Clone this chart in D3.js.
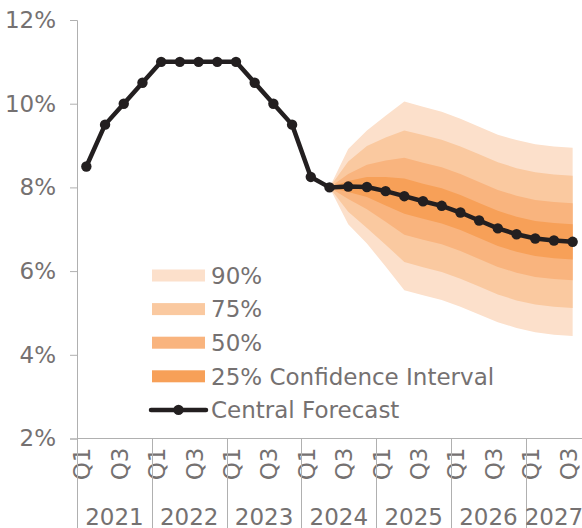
<!DOCTYPE html>
<html>
<head>
<meta charset="utf-8">
<script src="https://cdn.jsdelivr.net/npm/d3@7"></script>
<style>
  body { margin: 0; background: #fff; }
  svg text { font-family: "DejaVu Sans", sans-serif; fill: #757171; }
</style>
</head>
<body>
<div id="chart"></div>
<script>
// Periods: 2021 Q1 .. 2027 Q3
const years = ["2021", "2022", "2023", "2024", "2025", "2026", "2027"];
const quarterNames = ["Q1", "Q2", "Q3", "Q4"];
const periods = years.flatMap((y) => quarterNames.map((q) => `${y} ${q}`)).slice(0, 27);

// Central forecast, %
const centralForecast = [
  8.5, 9.5, 10.0, 10.5, 11.0, 11.0, 11.0, 11.0, 11.0, 10.5, 10.0, 9.5, 8.25,
  8.0, 8.02, 8.01, 7.91, 7.79, 7.67, 7.56, 7.40, 7.21, 7.02, 6.88, 6.78, 6.73, 6.70,
];

// Fan chart bounds, 2024 Q2 .. 2027 Q3
const fanPeriods = periods.slice(13);
const band90Upper = [8.0, 8.92, 9.36, 9.71, 10.05, 9.93, 9.81, 9.64, 9.45, 9.26, 9.13, 9.03, 8.98, 8.95];
const band90Lower = [8.0, 7.12, 6.66, 6.11, 5.54, 5.42, 5.31, 5.15, 4.96, 4.78, 4.64, 4.54, 4.48, 4.45];
const band75Upper = [8.0, 8.62, 8.99, 9.19, 9.36, 9.25, 9.14, 8.98, 8.79, 8.60, 8.46, 8.36, 8.31, 8.28];
const band75Lower = [8.0, 7.42, 7.03, 6.63, 6.22, 6.09, 5.98, 5.82, 5.63, 5.44, 5.30, 5.20, 5.15, 5.12];
const band50Upper = [8.0, 8.32, 8.54, 8.64, 8.71, 8.59, 8.48, 8.32, 8.13, 7.94, 7.80, 7.70, 7.65, 7.62];
const band50Lower = [8.0, 7.72, 7.48, 7.18, 6.87, 6.75, 6.64, 6.48, 6.29, 6.10, 5.96, 5.86, 5.81, 5.78];
const band25Upper = [8.0, 8.15, 8.25, 8.25, 8.21, 8.09, 7.98, 7.82, 7.63, 7.44, 7.30, 7.20, 7.15, 7.12];
const band25Lower = [8.0, 7.89, 7.77, 7.57, 7.37, 7.25, 7.14, 6.98, 6.79, 6.60, 6.46, 6.36, 6.31, 6.28];

const yTicks = [2, 4, 6, 8, 10, 12];
const bandLabels = ["90%", "75%", "50%", "25% Confidence Interval"];
const lineLabel = "Central Forecast";

const width = 582, height = 528;
const margin = { top: 20, right: 0, bottom: 89.5, left: 77 };
const fontSize = 23;
const bandColors = ["#fce0cb", "#fac9a0", "#f9b47e", "#f7a058"];
const lineColor = "#231f20";
const axisColor = "#b0b0b0";

const svg = d3.select("#chart").append("svg")
  .attr("width", width)
  .attr("height", height);

const x = d3.scaleBand().domain(periods).range([margin.left, width - margin.right]);
const y = d3.scaleLinear().domain([2, 12]).range([height - margin.bottom, margin.top]);
const cx = (p) => x(p) + x.bandwidth() / 2;

// Fan bands (outer first)
const bands = [
  { upper: band90Upper, lower: band90Lower },
  { upper: band75Upper, lower: band75Lower },
  { upper: band50Upper, lower: band50Lower },
  { upper: band25Upper, lower: band25Lower },
];
const area = d3.area()
  .x((d) => cx(d.p))
  .y0((d) => y(d.lo))
  .y1((d) => y(d.hi));

svg.append("g").selectAll("path")
  .data(bands)
  .join("path")
  .attr("fill", (d, i) => bandColors[i])
  .attr("d", (b) => area(fanPeriods.map((p, i) => ({ p, lo: b.lower[i], hi: b.upper[i] }))));

// Y axis
svg.append("g")
  .attr("transform", `translate(${margin.left},0)`)
  .call(d3.axisLeft(y).tickValues(yTicks).tickFormat((d) => d + "%").tickSize(7).tickPadding(14))
  .call((g) => g.selectAll("path, line").attr("stroke", axisColor))
  .call((g) => g.selectAll("text").attr("font-size", fontSize).attr("fill", "#757171"));

// X axis line
const axisY = y(2);
svg.append("line")
  .attr("x1", margin.left).attr("x2", width)
  .attr("y1", axisY).attr("y2", axisY)
  .attr("stroke", axisColor);

// Quarter labels (Q1, Q3)
svg.append("g").selectAll("text")
  .data(periods.filter((d, i) => i % 2 === 0))
  .join("text")
  .attr("transform", (d) => `translate(${cx(d) + 4},${axisY + 9}) rotate(-90)`)
  .attr("text-anchor", "end")
  .attr("font-size", fontSize)
  .text((d) => d.split(" ")[1]);

// Year separators and labels
const yearStarts = years.map((yr) => periods.indexOf(`${yr} Q1`));
svg.append("g").selectAll("line")
  .data(yearStarts)
  .join("line")
  .attr("x1", (i) => Math.round(x(periods[i])) + 0.5)
  .attr("x2", (i) => Math.round(x(periods[i])) + 0.5)
  .attr("y1", axisY)
  .attr("y2", height)
  .attr("stroke", axisColor);

svg.append("g").selectAll("text")
  .data(years)
  .join("text")
  .attr("x", (yr) => {
    const qs = periods.filter((p) => p.startsWith(yr));
    return (x(qs[0]) + x(qs[qs.length - 1]) + x.bandwidth()) / 2;
  })
  .attr("y", 525)
  .attr("text-anchor", "middle")
  .attr("font-size", fontSize)
  .text((d) => d);

// Central forecast line
const line = d3.line().x((d, i) => cx(periods[i])).y((d) => y(d));
svg.append("path")
  .datum(centralForecast)
  .attr("fill", "none")
  .attr("stroke", lineColor)
  .attr("stroke-width", 4.5)
  .attr("stroke-linejoin", "round")
  .attr("d", line);

svg.append("g").selectAll("circle")
  .data(centralForecast)
  .join("circle")
  .attr("cx", (d, i) => cx(periods[i]))
  .attr("cy", (d) => y(d))
  .attr("r", 5.2)
  .attr("fill", lineColor);

// Legend
const legend = svg.append("g");
const rowY = (i) => 275.5 + i * 33.6;
legend.selectAll("rect")
  .data(bandLabels)
  .join("rect")
  .attr("x", 152)
  .attr("y", (d, i) => rowY(i) - 6)
  .attr("width", 53)
  .attr("height", 12)
  .attr("fill", (d, i) => bandColors[i]);

legend.selectAll("text")
  .data([...bandLabels, lineLabel])
  .join("text")
  .attr("x", 211)
  .attr("y", (d, i) => rowY(i))
  .attr("dy", "0.36em")
  .attr("font-size", fontSize)
  .text((d) => d);

const ly = rowY(4);
legend.append("line")
  .attr("x1", 151).attr("x2", 206)
  .attr("y1", ly).attr("y2", ly)
  .attr("stroke", lineColor)
  .attr("stroke-width", 4.5)
  .attr("stroke-linecap", "round");
legend.append("circle")
  .attr("cx", 178.5).attr("cy", ly).attr("r", 5.2)
  .attr("fill", lineColor);
</script>
</body>
</html>
